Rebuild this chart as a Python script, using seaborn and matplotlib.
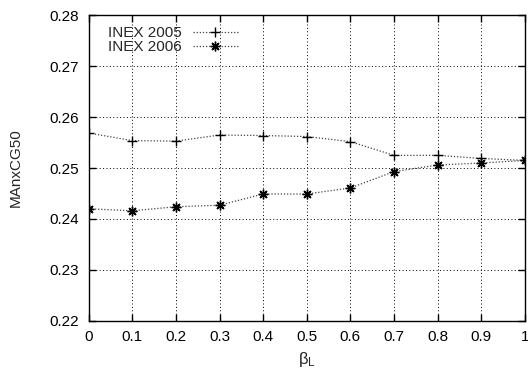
import matplotlib
matplotlib.use("Agg")
import matplotlib.pyplot as plt
import seaborn as sns
import pandas as pd

# Mean average precision (MAnxCG50) against the beta_L weight
beta_l = [0.0, 0.1, 0.2, 0.3, 0.4, 0.5, 0.6, 0.7, 0.8, 0.9, 1.0]
inex_2005 = [0.2569, 0.2554, 0.2553, 0.2565, 0.2564, 0.2562, 0.2552, 0.2525, 0.2525, 0.2519, 0.2515]
inex_2006 = [0.2420, 0.2416, 0.2424, 0.2427, 0.2449, 0.2449, 0.2461, 0.2493, 0.2506, 0.2510, 0.2515]
series_names = ["INEX 2005", "INEX 2006"]
y_ticks = [0.22, 0.23, 0.24, 0.25, 0.26, 0.27, 0.28]
x_ticks = [0, 0.1, 0.2, 0.3, 0.4, 0.5, 0.6, 0.7, 0.8, 0.9, 1]
x_tick_labels = ["0", "0.1", "0.2", "0.3", "0.4", "0.5", "0.6", "0.7", "0.8", "0.9", "1"]

sns.set_theme(style="ticks")
plt.rcParams["font.family"] = ["Liberation Sans", "DejaVu Sans"]
plt.rcParams["mathtext.fontset"] = "custom"
plt.rcParams["mathtext.rm"] = "Liberation Sans"
plt.rcParams["mathtext.it"] = "Liberation Sans"
plt.rcParams["mathtext.bf"] = "Liberation Sans:bold"

df = pd.DataFrame({
    "beta": beta_l * 2,
    "value": inex_2005 + inex_2006,
    "series": [series_names[0]] * len(beta_l) + [series_names[1]] * len(beta_l),
})

fig = plt.figure(figsize=(5.28, 3.69), dpi=100)
ax = fig.add_axes([0.168, 0.131, 0.826, 0.827])

ax.grid(True, color="black", linestyle=(0, (1, 2.5)), linewidth=0.7)
ax.set_axisbelow(True)

line_color = "#444444"
markers = {series_names[0]: "+", series_names[1]: (8, 2, 0)}
sns.lineplot(
    data=df, x="beta", y="value", hue="series", style="series",
    palette={series_names[0]: line_color, series_names[1]: line_color},
    markers=markers, dashes={series_names[0]: (1, 1.5), series_names[1]: (1, 1.5)},
    markersize=7, markeredgewidth=1.0, markeredgecolor="black",
    linewidth=0.9, ax=ax, legend=False,
)

# Legend entries: label first, then a short line sample with marker
handles = []
for name in series_names:
    h, = ax.plot([], [], color=line_color, linestyle=(0, (1, 1.5)), linewidth=0.9,
                 marker=markers[name], markersize=7, markeredgewidth=1.0,
                 markeredgecolor="black", label=name)
    handles.append(h)
leg = ax.legend(handles=handles, loc="upper left", markerfirst=False, frameon=False,
                fontsize=11, handlelength=3.0, handletextpad=0.7, labelspacing=0.0,
                borderaxespad=0.3, bbox_to_anchor=(0.02, 1.0))

ax.set_xlim(0, 1)
ax.set_ylim(0.22, 0.28)
ax.set_xticks(x_ticks)
ax.set_xticklabels(x_tick_labels)
ax.set_yticks(y_ticks)
ax.set_yticklabels([f"{t:.2f}" for t in y_ticks])
ax.tick_params(direction="in", length=5, width=1, top=True, right=True,
               labelsize=11, colors="black", pad=7)
for s in ax.spines.values():
    s.set_linewidth(1.0)
    s.set_color("black")

ax.set_xlabel(r"$\beta_\mathrm{L}$", fontsize=12, labelpad=4)
ax.set_ylabel("MAnxCG50", fontsize=11, labelpad=19)

fig.savefig("out.png", dpi=100, facecolor="white")
